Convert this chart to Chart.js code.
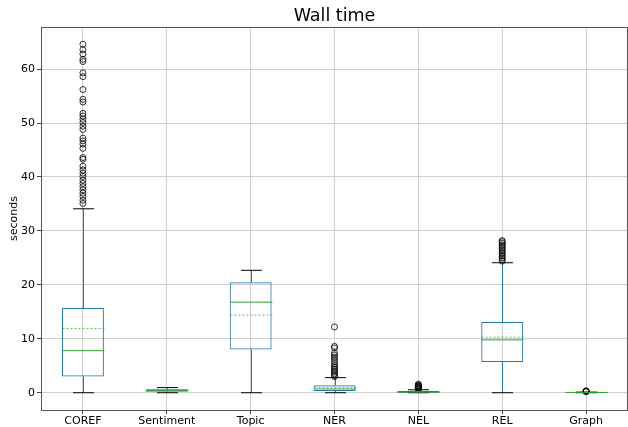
<!DOCTYPE html>
<html>
<head>
<meta charset="utf-8">
<script src="https://cdn.jsdelivr.net/npm/chart.js@4.4.1/dist/chart.umd.min.js"></script>
<style>
  body { margin: 0; background: #fff; }
</style>
</head>
<body>
<canvas id="myChart" width="628" height="427"></canvas>
<script>
const chartTitle = 'Wall time';
const categories = ['COREF', 'Sentiment', 'Topic', 'NER', 'NEL', 'REL', 'Graph'];
const q1 = [3.0, 0.2, 8.0, 0.3, 0.02, 5.7, 0.02];
const q3 = [15.7, 0.65, 20.5, 1.4, 0.3, 13.1, 0.08];
const medians = [7.8, 0.45, 16.8, 0.7, 0.1, 9.8, 0.05];
const means = [11.9, 0.45, 14.4, 1.0, 0.15, 10.3, 0.06];
const whiskerLow = [0, 0, 0, 0, 0, 0, 0];
const whiskerHigh = [34.1, 0.95, 22.7, 2.8, 0.55, 24.1, 0.12];
const yTicks = [0, 10, 20, 30, 40, 50, 60];

const corefOutliers = [64.6, 63.6, 62.8, 61.8, 61.4, 59.3, 58.6, 56.2, 54.4, 53.9, 51.8, 51.3, 50.7,
    50.1, 49.4, 48.8, 47.2, 46.7, 46.1, 45.3, 43.6, 43.3, 42.0, 41.3, 40.7, 40.1, 39.4, 38.8, 38.2,
    37.6, 37.0, 36.4, 35.7, 35.1];
const nerOutliers = [12.2, 8.6, 8.3, 7.4, 7.0, 6.6, 6.2, 5.8, 5.4, 5.0, 4.7, 4.4, 4.1, 3.8, 3.5, 3.2, 3.0];
const nelOutliers = [0.6, 0.7, 0.8, 0.9, 1.0, 1.1, 1.2, 1.3, 1.4, 1.6];
const relOutliers = [24.4, 24.7, 25.0, 25.3, 25.6, 25.9, 26.2, 26.5, 26.8, 27.1, 27.4, 27.7, 28.0, 28.2];
const graphOutliers = [0.2, 0.25, 0.3, 0.35];

const outlierPoints = [];
[['COREF', corefOutliers], ['NER', nerOutliers], ['NEL', nelOutliers], ['REL', relOutliers], ['Graph', graphOutliers]]
    .forEach(([cat, vals]) => vals.forEach(v => outlierPoints.push({ x: cat, y: v })));

const blue = '#1f77b4';
const green = '#2ca02c';
const font = "'DejaVu Sans', sans-serif";

// whiskers, caps, medians, means, the frame round the plot and the title over it
const boxParts = {
    id: 'boxParts',
    beforeDatasetsDraw(chart) {
        const { ctx, scales: { x, y } } = chart;
        ctx.save();
        ctx.strokeStyle = blue;
        ctx.lineWidth = 1;
        categories.forEach((c, i) => {
            const px = Math.round(x.getPixelForValue(i)) + 0.5;
            ctx.beginPath();
            ctx.moveTo(px, y.getPixelForValue(q3[i]));
            ctx.lineTo(px, y.getPixelForValue(whiskerHigh[i]));
            ctx.moveTo(px, y.getPixelForValue(q1[i]));
            ctx.lineTo(px, y.getPixelForValue(whiskerLow[i]));
            ctx.stroke();
        });
        ctx.restore();
    },
    afterDatasetsDraw(chart) {
        const { ctx, chartArea, scales: { x, y } } = chart;
        const step = x.getPixelForValue(1) - x.getPixelForValue(0);
        ctx.save();
        ctx.lineWidth = 1;
        categories.forEach((c, i) => {
            const px = Math.round(x.getPixelForValue(i)) + 0.5;
            const half = step / 4;
            const cap = step / 8;

            ctx.strokeStyle = '#000';
            ctx.setLineDash([]);
            ctx.beginPath();
            [whiskerHigh[i], whiskerLow[i]].forEach(v => {
                const py = y.getPixelForValue(v);
                ctx.moveTo(px - cap, py);
                ctx.lineTo(px + cap, py);
            });
            ctx.stroke();

            ctx.strokeStyle = green;
            ctx.beginPath();
            ctx.moveTo(px - half, y.getPixelForValue(medians[i]));
            ctx.lineTo(px + half, y.getPixelForValue(medians[i]));
            ctx.stroke();

            ctx.globalAlpha = 0.7;
            ctx.setLineDash([2, 2]);
            ctx.beginPath();
            ctx.moveTo(px - half, y.getPixelForValue(means[i]));
            ctx.lineTo(px + half, y.getPixelForValue(means[i]));
            ctx.stroke();
            ctx.globalAlpha = 1;
        });
        ctx.setLineDash([]);
        ctx.strokeStyle = '#555';
        ctx.strokeRect(chartArea.left + 0.5, chartArea.top + 0.5,
            chartArea.right - chartArea.left - 1, chartArea.bottom - chartArea.top);

        ctx.fillStyle = '#000';
        ctx.font = '17.5px ' + font;
        ctx.textAlign = 'center';
        ctx.textBaseline = 'middle';
        ctx.fillText(chartTitle, (chartArea.left + chartArea.right) / 2, 16.5);
        ctx.restore();
    }
};

const ctx = document.getElementById('myChart');

const chart = new Chart(ctx, {
    type: 'bar',
    data: {
        labels: categories,
        datasets: [{
            label: 'box',
            data: categories.map((c, i) => [q1[i], q3[i]]),
            backgroundColor: 'rgba(0,0,0,0)',
            borderColor: blue,
            borderWidth: 1,
            borderSkipped: false,
            barPercentage: 0.5,
            categoryPercentage: 1
        }, {
            type: 'scatter',
            label: 'outliers',
            data: outlierPoints,
            pointStyle: 'circle',
            pointRadius: 3,
            borderColor: '#000',
            backgroundColor: 'rgba(0,0,0,0)',
            borderWidth: 0.8
        }]
    },
    options: {
        responsive: false,
        animation: false,
        layout: { autoPadding: false, padding: { left: 0, right: 0, top: 27, bottom: 0 } },
        plugins: {
            legend: { display: false },
            tooltip: { enabled: false },
            title: { display: false }
        },
        scales: {
            x: {
                type: 'category',
                offset: true,
                grid: { offset: false, color: '#cfcfcf', tickColor: '#444', tickLength: 4 },
                border: { display: false },
                ticks: { color: '#000', font: { family: font, size: 11 }, padding: 1, maxRotation: 0 },
                afterFit(scale) { scale.height = 17; }
            },
            y: {
                min: -3.2,
                max: 67.8,
                grid: { color: '#cfcfcf', tickColor: '#444', tickLength: 4 },
                border: { display: false },
                afterBuildTicks(scale) { scale.ticks = yTicks.map(v => ({ value: v })); },
                ticks: { color: '#000', font: { family: font, size: 11 }, padding: 2 },
                title: {
                    display: true,
                    text: 'seconds',
                    color: '#000',
                    font: { family: font, size: 11 },
                    padding: { top: 8, bottom: 0 }
                },
                afterFit(scale) { scale.width = 41; }
            }
        }
    },
    plugins: [boxParts]
});
</script>
</body>
</html>
